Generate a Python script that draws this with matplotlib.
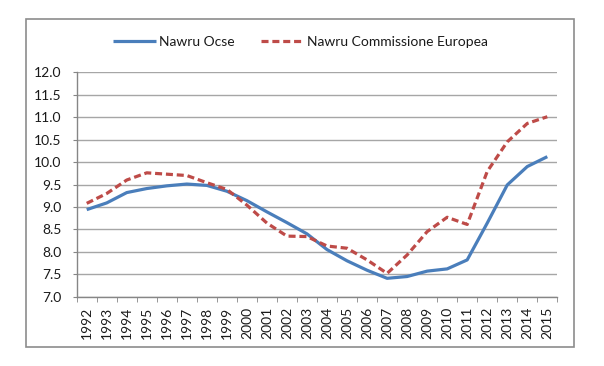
import matplotlib.pyplot as plt
from matplotlib.patches import Rectangle

anni = [str(a) for a in range(1992, 2016)]
nawru_ocse = [8.94, 9.09, 9.32, 9.41, 9.47, 9.51, 9.48, 9.35, 9.14, 8.89, 8.65, 8.40,
              8.05, 7.80, 7.59, 7.41, 7.45, 7.57, 7.62, 7.82, 8.64, 9.49, 9.90, 10.12]
nawru_ce = [9.08, 9.30, 9.60, 9.76, 9.73, 9.70, 9.54, 9.39, 9.04, 8.64, 8.35, 8.34,
            8.13, 8.08, 7.82, 7.52, 7.93, 8.45, 8.77, 8.61, 9.79, 10.45, 10.86, 11.01]
yticks = [7.0, 7.5, 8.0, 8.5, 9.0, 9.5, 10.0, 10.5, 11.0, 11.5, 12.0]

plt.rcParams['font.family'] = ['Lato', 'DejaVu Sans']
plt.rcParams['font.size'] = 10
testo = '#1a1a1a'

fig = plt.figure(figsize=(6.04, 3.66), dpi=100)
ax = fig.add_axes([0.127, 0.1893, 0.7957, 0.6132])

# cornice del grafico
fig.patches.append(Rectangle((0.0425, 0.0527), 0.9078, 0.8954, transform=fig.transFigure,
                             fill=False, edgecolor='#8c8c8c', linewidth=1.2))

x = list(range(len(anni)))
ax.plot(x, nawru_ocse, color='#4a7ebb', lw=2.3, label='Nawru Ocse', solid_capstyle='butt')
ax.plot(x, nawru_ce, color='#be4b48', lw=2.3, linestyle=(0, (2.2, 1.2)),
        label='Nawru Commissione Europea')

ax.set_xlim(-0.5, len(anni) - 0.5)
ax.set_ylim(7.0, 12.0)
ax.set_yticks(yticks)
ax.set_yticklabels(['%.1f' % v for v in yticks], color=testo)
ax.set_xticks(x)
ax.set_xticklabels(anni, rotation=90, color=testo)
ax.set_xticks([i - 0.5 for i in range(len(anni) + 1)], minor=True)

ax.tick_params(axis='x', which='major', length=0, pad=7)
ax.tick_params(axis='x', which='minor', length=3.6, color='#868686', direction='out')
ax.tick_params(axis='y', length=3.1, color='#868686', pad=7.7)

ax.grid(axis='y', color='#a6a6a6', linewidth=1.0)
ax.set_axisbelow(True)
for s in ['top', 'right']:
    ax.spines[s].set_visible(False)
for s in ['left', 'bottom']:
    ax.spines[s].set_color('#868686')
    ax.spines[s].set_linewidth(1.0)

fig.legend(loc='center', bbox_to_anchor=(0.497, 0.886), ncol=2, frameon=False,
           handlelength=3.1, handletextpad=0.2, columnspacing=1.9, labelcolor=testo)

fig.savefig('out.png', dpi=100)
